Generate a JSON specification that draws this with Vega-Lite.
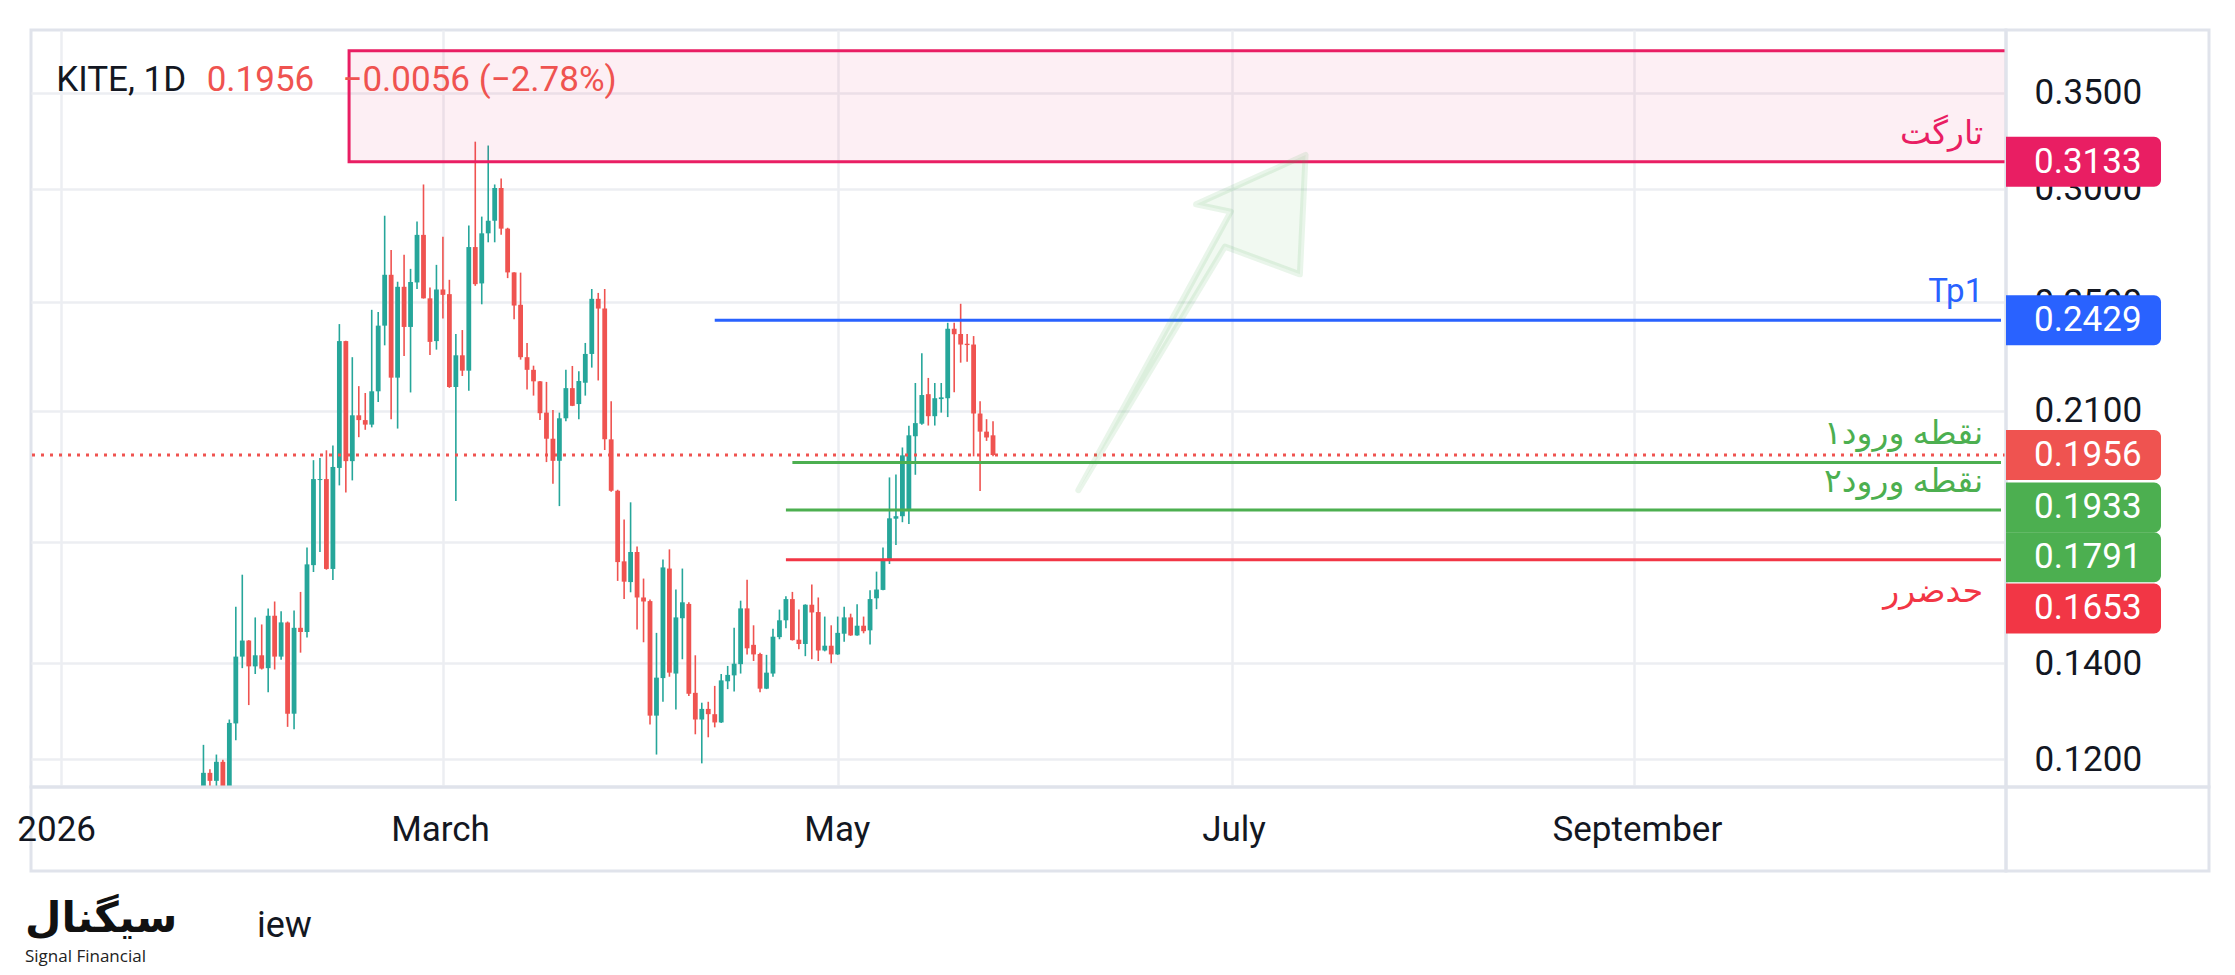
{
  "$schema": "https://vega.github.io/schema/vega-lite/v6.json",
  "background": "#ffffff",
  "padding": {"left": 15, "top": 28, "right": 28, "bottom": 10},
  "autosize": {"type": "pad"},
  "config": {"view": {"stroke": "#e0e3eb", "strokeWidth": 3}, "font": "Roboto"},
  "datasets": {
    "candles": [
      {"date": "2026-01-22", "open": 0.1080, "high": 0.1146, "low": 0.1050, "close": 0.1120},
      {"date": "2026-01-23", "open": 0.1125, "high": 0.1228, "low": 0.1105, "close": 0.1174},
      {"date": "2026-01-24", "open": 0.1174, "high": 0.1181, "low": 0.1120, "close": 0.1159},
      {"date": "2026-01-25", "open": 0.1159, "high": 0.1209, "low": 0.1135, "close": 0.1195},
      {"date": "2026-01-26", "open": 0.1195, "high": 0.1199, "low": 0.1125, "close": 0.1149},
      {"date": "2026-01-27", "open": 0.1149, "high": 0.1279, "low": 0.1130, "close": 0.1272},
      {"date": "2026-01-28", "open": 0.1271, "high": 0.1533, "low": 0.1237, "close": 0.1415},
      {"date": "2026-01-29", "open": 0.1415, "high": 0.1614, "low": 0.1389, "close": 0.1452},
      {"date": "2026-01-30", "open": 0.1452, "high": 0.1453, "low": 0.1309, "close": 0.1393},
      {"date": "2026-01-31", "open": 0.1393, "high": 0.1507, "low": 0.1376, "close": 0.1418},
      {"date": "2026-02-01", "open": 0.1418, "high": 0.1490, "low": 0.1386, "close": 0.1388},
      {"date": "2026-02-02", "open": 0.1389, "high": 0.1529, "low": 0.1336, "close": 0.1511},
      {"date": "2026-02-03", "open": 0.1511, "high": 0.1546, "low": 0.1386, "close": 0.1415},
      {"date": "2026-02-04", "open": 0.1415, "high": 0.1522, "low": 0.1408, "close": 0.1495},
      {"date": "2026-02-05", "open": 0.1495, "high": 0.1497, "low": 0.1264, "close": 0.1291},
      {"date": "2026-02-06", "open": 0.1291, "high": 0.1524, "low": 0.1259, "close": 0.1482},
      {"date": "2026-02-07", "open": 0.1482, "high": 0.1570, "low": 0.1424, "close": 0.1472},
      {"date": "2026-02-08", "open": 0.1472, "high": 0.1686, "low": 0.1459, "close": 0.1641},
      {"date": "2026-02-09", "open": 0.1639, "high": 0.1940, "low": 0.1621, "close": 0.1882},
      {"date": "2026-02-10", "open": 0.1879, "high": 0.1947, "low": 0.1674, "close": 0.1882},
      {"date": "2026-02-11", "open": 0.1882, "high": 0.1971, "low": 0.1627, "close": 0.1629},
      {"date": "2026-02-12", "open": 0.1629, "high": 0.1986, "low": 0.1600, "close": 0.1919},
      {"date": "2026-02-13", "open": 0.1916, "high": 0.2414, "low": 0.1863, "close": 0.2349},
      {"date": "2026-02-14", "open": 0.2349, "high": 0.2350, "low": 0.1842, "close": 0.1937},
      {"date": "2026-02-15", "open": 0.1937, "high": 0.2289, "low": 0.1878, "close": 0.2085},
      {"date": "2026-02-16", "open": 0.2085, "high": 0.2185, "low": 0.2013, "close": 0.2069},
      {"date": "2026-02-17", "open": 0.2069, "high": 0.2161, "low": 0.2037, "close": 0.2054},
      {"date": "2026-02-18", "open": 0.2054, "high": 0.2470, "low": 0.2045, "close": 0.2167},
      {"date": "2026-02-19", "open": 0.2167, "high": 0.2461, "low": 0.2130, "close": 0.2408},
      {"date": "2026-02-20", "open": 0.2408, "high": 0.2873, "low": 0.2333, "close": 0.2613},
      {"date": "2026-02-21", "open": 0.2613, "high": 0.2719, "low": 0.2072, "close": 0.2215},
      {"date": "2026-02-22", "open": 0.2215, "high": 0.2584, "low": 0.2041, "close": 0.2563},
      {"date": "2026-02-23", "open": 0.2563, "high": 0.2699, "low": 0.2293, "close": 0.2403},
      {"date": "2026-02-24", "open": 0.2403, "high": 0.2638, "low": 0.2163, "close": 0.2583},
      {"date": "2026-02-25", "open": 0.2581, "high": 0.2846, "low": 0.2554, "close": 0.2786},
      {"date": "2026-02-26", "open": 0.2786, "high": 0.3021, "low": 0.2515, "close": 0.2516},
      {"date": "2026-02-27", "open": 0.2516, "high": 0.2560, "low": 0.2297, "close": 0.2346},
      {"date": "2026-02-28", "open": 0.2349, "high": 0.2655, "low": 0.2317, "close": 0.2552},
      {"date": "2026-03-01", "open": 0.2552, "high": 0.2778, "low": 0.2436, "close": 0.2530},
      {"date": "2026-03-02", "open": 0.2533, "high": 0.2592, "low": 0.2179, "close": 0.2182},
      {"date": "2026-03-03", "open": 0.2182, "high": 0.2376, "low": 0.1817, "close": 0.2296},
      {"date": "2026-03-04", "open": 0.2296, "high": 0.2391, "low": 0.2221, "close": 0.2240},
      {"date": "2026-03-05", "open": 0.2240, "high": 0.2828, "low": 0.2169, "close": 0.2732},
      {"date": "2026-03-06", "open": 0.2732, "high": 0.3236, "low": 0.2567, "close": 0.2574},
      {"date": "2026-03-07", "open": 0.2577, "high": 0.2869, "low": 0.2492, "close": 0.2793},
      {"date": "2026-03-08", "open": 0.2793, "high": 0.3216, "low": 0.2753, "close": 0.2850},
      {"date": "2026-03-09", "open": 0.2850, "high": 0.3021, "low": 0.2753, "close": 0.3004},
      {"date": "2026-03-10", "open": 0.3004, "high": 0.3050, "low": 0.2787, "close": 0.2814},
      {"date": "2026-03-11", "open": 0.2814, "high": 0.2818, "low": 0.2599, "close": 0.2623},
      {"date": "2026-03-12", "open": 0.2623, "high": 0.2624, "low": 0.2433, "close": 0.2487},
      {"date": "2026-03-13", "open": 0.2490, "high": 0.2622, "low": 0.2280, "close": 0.2289},
      {"date": "2026-03-14", "open": 0.2289, "high": 0.2342, "low": 0.2173, "close": 0.2243},
      {"date": "2026-03-15", "open": 0.2243, "high": 0.2258, "low": 0.2152, "close": 0.2202},
      {"date": "2026-03-16", "open": 0.2202, "high": 0.2203, "low": 0.2069, "close": 0.2092},
      {"date": "2026-03-17", "open": 0.2094, "high": 0.2200, "low": 0.1934, "close": 0.2008},
      {"date": "2026-03-18", "open": 0.2008, "high": 0.2103, "low": 0.1868, "close": 0.1938},
      {"date": "2026-03-19", "open": 0.1938, "high": 0.2094, "low": 0.1802, "close": 0.2075},
      {"date": "2026-03-20", "open": 0.2075, "high": 0.2243, "low": 0.2065, "close": 0.2178},
      {"date": "2026-03-21", "open": 0.2178, "high": 0.2257, "low": 0.2116, "close": 0.2117},
      {"date": "2026-03-22", "open": 0.2123, "high": 0.2238, "low": 0.2072, "close": 0.2203},
      {"date": "2026-03-23", "open": 0.2197, "high": 0.2342, "low": 0.2152, "close": 0.2301},
      {"date": "2026-03-24", "open": 0.2301, "high": 0.2554, "low": 0.2251, "close": 0.2514},
      {"date": "2026-03-25", "open": 0.2514, "high": 0.2538, "low": 0.2205, "close": 0.2475},
      {"date": "2026-03-26", "open": 0.2475, "high": 0.2554, "low": 0.1972, "close": 0.2006},
      {"date": "2026-03-27", "open": 0.2006, "high": 0.2133, "low": 0.1844, "close": 0.1847},
      {"date": "2026-03-28", "open": 0.1847, "high": 0.1850, "low": 0.1598, "close": 0.1647},
      {"date": "2026-03-29", "open": 0.1649, "high": 0.1764, "low": 0.1552, "close": 0.1596},
      {"date": "2026-03-30", "open": 0.1595, "high": 0.1813, "low": 0.1569, "close": 0.1674},
      {"date": "2026-03-31", "open": 0.1674, "high": 0.1689, "low": 0.1478, "close": 0.1556},
      {"date": "2026-04-01", "open": 0.1556, "high": 0.1604, "low": 0.1448, "close": 0.1546},
      {"date": "2026-04-02", "open": 0.1547, "high": 0.1551, "low": 0.1269, "close": 0.1287},
      {"date": "2026-04-03", "open": 0.1287, "high": 0.1470, "low": 0.1209, "close": 0.1368},
      {"date": "2026-04-04", "open": 0.1367, "high": 0.1654, "low": 0.1316, "close": 0.1633},
      {"date": "2026-04-05", "open": 0.1630, "high": 0.1681, "low": 0.1370, "close": 0.1379},
      {"date": "2026-04-06", "open": 0.1377, "high": 0.1576, "low": 0.1300, "close": 0.1507},
      {"date": "2026-04-07", "open": 0.1505, "high": 0.1630, "low": 0.1409, "close": 0.1544},
      {"date": "2026-04-08", "open": 0.1540, "high": 0.1544, "low": 0.1328, "close": 0.1333},
      {"date": "2026-04-09", "open": 0.1335, "high": 0.1418, "low": 0.1249, "close": 0.1279},
      {"date": "2026-04-10", "open": 0.1279, "high": 0.1314, "low": 0.1192, "close": 0.1301},
      {"date": "2026-04-11", "open": 0.1301, "high": 0.1316, "low": 0.1243, "close": 0.1290},
      {"date": "2026-04-12", "open": 0.1290, "high": 0.1350, "low": 0.1263, "close": 0.1273},
      {"date": "2026-04-13", "open": 0.1273, "high": 0.1376, "low": 0.1272, "close": 0.1362},
      {"date": "2026-04-14", "open": 0.1360, "high": 0.1394, "low": 0.1343, "close": 0.1374},
      {"date": "2026-04-15", "open": 0.1373, "high": 0.1482, "low": 0.1338, "close": 0.1399},
      {"date": "2026-04-16", "open": 0.1398, "high": 0.1548, "low": 0.1377, "close": 0.1529},
      {"date": "2026-04-17", "open": 0.1529, "high": 0.1601, "low": 0.1420, "close": 0.1434},
      {"date": "2026-04-18", "open": 0.1442, "high": 0.1488, "low": 0.1405, "close": 0.1420},
      {"date": "2026-04-19", "open": 0.1421, "high": 0.1424, "low": 0.1336, "close": 0.1344},
      {"date": "2026-04-20", "open": 0.1344, "high": 0.1419, "low": 0.1343, "close": 0.1379},
      {"date": "2026-04-21", "open": 0.1377, "high": 0.1480, "low": 0.1370, "close": 0.1461},
      {"date": "2026-04-22", "open": 0.1460, "high": 0.1526, "low": 0.1455, "close": 0.1500},
      {"date": "2026-04-23", "open": 0.1500, "high": 0.1559, "low": 0.1481, "close": 0.1552},
      {"date": "2026-04-24", "open": 0.1552, "high": 0.1570, "low": 0.1452, "close": 0.1453},
      {"date": "2026-04-25", "open": 0.1454, "high": 0.1526, "low": 0.1432, "close": 0.1444},
      {"date": "2026-04-26", "open": 0.1444, "high": 0.1539, "low": 0.1416, "close": 0.1538},
      {"date": "2026-04-27", "open": 0.1538, "high": 0.1589, "low": 0.1409, "close": 0.1519},
      {"date": "2026-04-28", "open": 0.1520, "high": 0.1556, "low": 0.1405, "close": 0.1429},
      {"date": "2026-04-29", "open": 0.1429, "high": 0.1509, "low": 0.1427, "close": 0.1440},
      {"date": "2026-04-30", "open": 0.1440, "high": 0.1488, "low": 0.1400, "close": 0.1420},
      {"date": "2026-05-01", "open": 0.1420, "high": 0.1509, "low": 0.1419, "close": 0.1470},
      {"date": "2026-05-02", "open": 0.1468, "high": 0.1533, "low": 0.1449, "close": 0.1507},
      {"date": "2026-05-03", "open": 0.1507, "high": 0.1516, "low": 0.1463, "close": 0.1464},
      {"date": "2026-05-04", "open": 0.1464, "high": 0.1539, "low": 0.1463, "close": 0.1487},
      {"date": "2026-05-05", "open": 0.1487, "high": 0.1509, "low": 0.1469, "close": 0.1474},
      {"date": "2026-05-06", "open": 0.1476, "high": 0.1574, "low": 0.1443, "close": 0.1552},
      {"date": "2026-05-07", "open": 0.1554, "high": 0.1622, "low": 0.1527, "close": 0.1576},
      {"date": "2026-05-08", "open": 0.1575, "high": 0.1686, "low": 0.1574, "close": 0.1655},
      {"date": "2026-05-09", "open": 0.1652, "high": 0.1887, "low": 0.1642, "close": 0.1767},
      {"date": "2026-05-10", "open": 0.1766, "high": 0.1896, "low": 0.1693, "close": 0.1773},
      {"date": "2026-05-11", "open": 0.1773, "high": 0.1980, "low": 0.1756, "close": 0.1955},
      {"date": "2026-05-12", "open": 0.1789, "high": 0.2050, "low": 0.1751, "close": 0.2019},
      {"date": "2026-05-13", "open": 0.2016, "high": 0.2196, "low": 0.1895, "close": 0.2059},
      {"date": "2026-05-14", "open": 0.2057, "high": 0.2304, "low": 0.2054, "close": 0.2154},
      {"date": "2026-05-15", "open": 0.2157, "high": 0.2214, "low": 0.2051, "close": 0.2082},
      {"date": "2026-05-16", "open": 0.2082, "high": 0.2196, "low": 0.2051, "close": 0.2143},
      {"date": "2026-05-17", "open": 0.2140, "high": 0.2196, "low": 0.2094, "close": 0.2146},
      {"date": "2026-05-18", "open": 0.2143, "high": 0.2419, "low": 0.2079, "close": 0.2396},
      {"date": "2026-05-19", "open": 0.2396, "high": 0.2419, "low": 0.2164, "close": 0.2375},
      {"date": "2026-05-20", "open": 0.2376, "high": 0.2494, "low": 0.2269, "close": 0.2336},
      {"date": "2026-05-21", "open": 0.2339, "high": 0.2376, "low": 0.2272, "close": 0.2334},
      {"date": "2026-05-22", "open": 0.2336, "high": 0.2368, "low": 0.1952, "close": 0.2091},
      {"date": "2026-05-23", "open": 0.2091, "high": 0.2133, "low": 0.1846, "close": 0.2031},
      {"date": "2026-05-24", "open": 0.2031, "high": 0.2072, "low": 0.2001, "close": 0.2012},
      {"date": "2026-05-25", "open": 0.2019, "high": 0.2065, "low": 0.1952, "close": 0.1956}
    ],
    "levels": [
      {"kind": "tp1", "price": 0.2429, "start": "2026-04-12"},
      {"kind": "entry", "price": 0.1933, "start": "2026-04-24"},
      {"kind": "entry", "price": 0.1791, "start": "2026-04-23"},
      {"kind": "stop", "price": 0.1653, "start": "2026-04-23"}
    ],
    "labels": [
      {"kind": "target", "price": 0.3133, "text": "تارگت"},
      {"kind": "tp1", "price": 0.2429, "text": "Tp1"},
      {"kind": "entry", "price": 0.1933, "text": "نقطه ورود۱"},
      {"kind": "entry", "price": 0.1791, "text": "نقطه ورود۲"},
      {"kind": "stop", "price": 0.1653, "text": "حدضرر"}
    ],
    "tags": [
      {"kind": "target", "value": 0.3133, "at": 0.3133},
      {"kind": "tp1", "value": 0.2429, "at": 0.2429},
      {"kind": "last", "value": 0.1956, "at": 0.1956},
      {"kind": "entry", "value": 0.1933, "at": 0.1798},
      {"kind": "entry", "value": 0.1791, "at": 0.1660},
      {"kind": "stop", "value": 0.1653, "at": 0.1529}
    ],
    "arrow": [
      {"i": 0, "t": "2026-06-07T04:30:00Z", "p": 0.18486},
      {"i": 1, "t": "2026-06-30T18:00:00Z", "p": 0.28920},
      {"i": 2, "t": "2026-06-25T09:00:00Z", "p": 0.29261},
      {"i": 3, "t": "2026-07-12T07:00:00Z", "p": 0.31680},
      {"i": 4, "t": "2026-07-11T10:00:00Z", "p": 0.26148},
      {"i": 5, "t": "2026-06-29T20:00:00Z", "p": 0.27340},
      {"i": 6, "t": "2026-06-07T04:30:00Z", "p": 0.18486}
    ]
  },
  "columns": 2,
  "spacing": 0,
  "bounds": "flush",
  "resolve": {"scale": {"x": "independent", "y": "independent", "color": "independent"}},
  "concat": [
    {
      "width": 1975,
      "height": 757,
      "layer": [
        {
          "data": {"name": "candles"},
          "mark": {"type": "rule", "strokeWidth": 1.6, "clip": true},
          "encoding": {
            "x": {"field": "date", "type": "temporal",
              "scale": {"type": "utc", "nice": false, "domain": [{"year": 2025, "month": 12, "date": 28, "hours": 3, "utc": true}, {"year": 2026, "month": 10, "date": 27, "hours": 18, "utc": true}]},
              "axis": {"values": [{"year": 2026, "month": 1, "date": 1, "utc": true}, {"year": 2026, "month": 3, "date": 1, "utc": true}, {"year": 2026, "month": 5, "date": 1, "utc": true}, {"year": 2026, "month": 7, "date": 1, "utc": true}, {"year": 2026, "month": 9, "date": 1, "utc": true}], "grid": true, "gridColor": "#eceef2", "gridWidth": 2.5, "labels": false, "domain": false, "ticks": false, "title": null}},
            "y": {"field": "low", "type": "quantitative",
              "scale": {"type": "log", "nice": false, "domain": [0.11476, 0.38718]},
              "axis": {"values": [0.12, 0.14, 0.17, 0.21, 0.25, 0.3, 0.35], "grid": true, "gridColor": "#eceef2", "gridWidth": 2.5, "labels": false, "domain": false, "ticks": false, "title": null}},
            "y2": {"field": "high"},
            "color": {"condition": {"test": "datum.close >= datum.open", "value": "#26a69a"}, "value": "#ef5350"}
          }
        },
        {
          "data": {"name": "candles"},
          "mark": {"type": "bar", "size": 4.8, "clip": true},
          "encoding": {
            "x": {"field": "date", "type": "temporal",
              "scale": {"type": "utc", "nice": false, "domain": [{"year": 2025, "month": 12, "date": 28, "hours": 3, "utc": true}, {"year": 2026, "month": 10, "date": 27, "hours": 18, "utc": true}]},
              "axis": {"values": [{"year": 2026, "month": 1, "date": 1, "utc": true}, {"year": 2026, "month": 3, "date": 1, "utc": true}, {"year": 2026, "month": 5, "date": 1, "utc": true}, {"year": 2026, "month": 7, "date": 1, "utc": true}, {"year": 2026, "month": 9, "date": 1, "utc": true}], "grid": true, "gridColor": "#eceef2", "gridWidth": 2.5, "labels": false, "domain": false, "ticks": false, "title": null}},
            "y": {"field": "open", "type": "quantitative",
              "scale": {"type": "log", "nice": false, "domain": [0.11476, 0.38718]},
              "axis": {"values": [0.12, 0.14, 0.17, 0.21, 0.25, 0.3, 0.35], "grid": true, "gridColor": "#eceef2", "gridWidth": 2.5, "labels": false, "domain": false, "ticks": false, "title": null}},
            "y2": {"field": "close"},
            "color": {"condition": {"test": "datum.close >= datum.open", "value": "#26a69a"}, "value": "#ef5350"}
          }
        },
        {
          "data": {"values": [{}]},
          "mark": {"type": "rect", "clip": true, "fill": "#e91e63", "fillOpacity": 0.07, "stroke": "#e91e63", "strokeWidth": 3},
          "encoding": {
            "x": {"datum": {"year": 2026, "month": 2, "date": 14, "hours": 12, "utc": true}, "type": "temporal",
              "scale": {"type": "utc", "nice": false, "domain": [{"year": 2025, "month": 12, "date": 28, "hours": 3, "utc": true}, {"year": 2026, "month": 10, "date": 27, "hours": 18, "utc": true}]},
              "axis": {"values": [{"year": 2026, "month": 1, "date": 1, "utc": true}, {"year": 2026, "month": 3, "date": 1, "utc": true}, {"year": 2026, "month": 5, "date": 1, "utc": true}, {"year": 2026, "month": 7, "date": 1, "utc": true}, {"year": 2026, "month": 9, "date": 1, "utc": true}], "grid": true, "gridColor": "#eceef2", "gridWidth": 2.5, "labels": false, "domain": false, "ticks": false, "title": null}},
            "x2": {"datum": {"year": 2026, "month": 11, "date": 15, "utc": true}},
            "y": {"datum": 0.3133, "type": "quantitative",
              "scale": {"type": "log", "nice": false, "domain": [0.11476, 0.38718]},
              "axis": {"values": [0.12, 0.14, 0.17, 0.21, 0.25, 0.3, 0.35], "grid": true, "gridColor": "#eceef2", "gridWidth": 2.5, "labels": false, "domain": false, "ticks": false, "title": null}},
            "y2": {"datum": 0.3745}
          }
        },
        {
          "data": {"values": [{}]},
          "mark": {"type": "rule", "color": "#ef5350", "strokeWidth": 3, "strokeDash": [3, 6]},
          "encoding": {
            "y": {"datum": 0.1956, "type": "quantitative",
              "scale": {"type": "log", "nice": false, "domain": [0.11476, 0.38718]},
              "axis": {"values": [0.12, 0.14, 0.17, 0.21, 0.25, 0.3, 0.35], "grid": true, "gridColor": "#eceef2", "gridWidth": 2.5, "labels": false, "domain": false, "ticks": false, "title": null}}
          }
        },
        {
          "data": {"name": "levels"},
          "mark": {"type": "rule", "strokeWidth": 3},
          "encoding": {
            "x": {"field": "start", "type": "temporal",
              "scale": {"type": "utc", "nice": false, "domain": [{"year": 2025, "month": 12, "date": 28, "hours": 3, "utc": true}, {"year": 2026, "month": 10, "date": 27, "hours": 18, "utc": true}]},
              "axis": {"values": [{"year": 2026, "month": 1, "date": 1, "utc": true}, {"year": 2026, "month": 3, "date": 1, "utc": true}, {"year": 2026, "month": 5, "date": 1, "utc": true}, {"year": 2026, "month": 7, "date": 1, "utc": true}, {"year": 2026, "month": 9, "date": 1, "utc": true}], "grid": true, "gridColor": "#eceef2", "gridWidth": 2.5, "labels": false, "domain": false, "ticks": false, "title": null}},
            "x2": {"datum": {"year": 2026, "month": 10, "date": 27, "hours": 18, "utc": true}},
            "y": {"field": "price", "type": "quantitative",
              "scale": {"type": "log", "nice": false, "domain": [0.11476, 0.38718]},
              "axis": {"values": [0.12, 0.14, 0.17, 0.21, 0.25, 0.3, 0.35], "grid": true, "gridColor": "#eceef2", "gridWidth": 2.5, "labels": false, "domain": false, "ticks": false, "title": null}},
            "color": {"field": "kind", "type": "nominal", "legend": null,
              "scale": {"domain": ["target", "tp1", "entry", "stop", "last"], "range": ["#e91e63", "#2962ff", "#4caf50", "#f23645", "#ef5350"]}}
          }
        },
        {
          "data": {"name": "arrow"},
          "mark": {"type": "line", "fill": "#4caf50", "fillOpacity": 0.08, "stroke": "#4caf50", "strokeOpacity": 0.12, "strokeWidth": 6, "strokeJoin": "round", "strokeCap": "round"},
          "encoding": {
            "x": {"field": "t", "type": "temporal",
              "scale": {"type": "utc", "nice": false, "domain": [{"year": 2025, "month": 12, "date": 28, "hours": 3, "utc": true}, {"year": 2026, "month": 10, "date": 27, "hours": 18, "utc": true}]},
              "axis": {"values": [{"year": 2026, "month": 1, "date": 1, "utc": true}, {"year": 2026, "month": 3, "date": 1, "utc": true}, {"year": 2026, "month": 5, "date": 1, "utc": true}, {"year": 2026, "month": 7, "date": 1, "utc": true}, {"year": 2026, "month": 9, "date": 1, "utc": true}], "grid": true, "gridColor": "#eceef2", "gridWidth": 2.5, "labels": false, "domain": false, "ticks": false, "title": null}},
            "y": {"field": "p", "type": "quantitative",
              "scale": {"type": "log", "nice": false, "domain": [0.11476, 0.38718]},
              "axis": {"values": [0.12, 0.14, 0.17, 0.21, 0.25, 0.3, 0.35], "grid": true, "gridColor": "#eceef2", "gridWidth": 2.5, "labels": false, "domain": false, "ticks": false, "title": null}},
            "order": {"field": "i", "type": "quantitative"}
          }
        },
        {
          "data": {"name": "labels"},
          "transform": [{"filter": "datum.kind != 'stop'"}],
          "mark": {"type": "text", "align": "right", "baseline": "alphabetic", "dy": -18, "fontSize": 33, "font": "Roboto, DejaVu Sans"},
          "encoding": {
            "x": {"datum": {"year": 2026, "month": 10, "date": 25, "utc": true}, "type": "temporal",
              "scale": {"type": "utc", "nice": false, "domain": [{"year": 2025, "month": 12, "date": 28, "hours": 3, "utc": true}, {"year": 2026, "month": 10, "date": 27, "hours": 18, "utc": true}]},
              "axis": {"values": [{"year": 2026, "month": 1, "date": 1, "utc": true}, {"year": 2026, "month": 3, "date": 1, "utc": true}, {"year": 2026, "month": 5, "date": 1, "utc": true}, {"year": 2026, "month": 7, "date": 1, "utc": true}, {"year": 2026, "month": 9, "date": 1, "utc": true}], "grid": true, "gridColor": "#eceef2", "gridWidth": 2.5, "labels": false, "domain": false, "ticks": false, "title": null}},
            "y": {"field": "price", "type": "quantitative",
              "scale": {"type": "log", "nice": false, "domain": [0.11476, 0.38718]},
              "axis": {"values": [0.12, 0.14, 0.17, 0.21, 0.25, 0.3, 0.35], "grid": true, "gridColor": "#eceef2", "gridWidth": 2.5, "labels": false, "domain": false, "ticks": false, "title": null}},
            "text": {"field": "text"},
            "color": {"field": "kind", "type": "nominal", "legend": null,
              "scale": {"domain": ["target", "tp1", "entry", "stop", "last"], "range": ["#e91e63", "#2962ff", "#4caf50", "#f23645", "#ef5350"]}}
          }
        },
        {
          "data": {"name": "labels"},
          "transform": [{"filter": "datum.kind == 'stop'"}],
          "mark": {"type": "text", "align": "right", "baseline": "alphabetic", "dy": 42, "fontSize": 33, "font": "Roboto, DejaVu Sans"},
          "encoding": {
            "x": {"datum": {"year": 2026, "month": 10, "date": 25, "utc": true}, "type": "temporal",
              "scale": {"type": "utc", "nice": false, "domain": [{"year": 2025, "month": 12, "date": 28, "hours": 3, "utc": true}, {"year": 2026, "month": 10, "date": 27, "hours": 18, "utc": true}]},
              "axis": {"values": [{"year": 2026, "month": 1, "date": 1, "utc": true}, {"year": 2026, "month": 3, "date": 1, "utc": true}, {"year": 2026, "month": 5, "date": 1, "utc": true}, {"year": 2026, "month": 7, "date": 1, "utc": true}, {"year": 2026, "month": 9, "date": 1, "utc": true}], "grid": true, "gridColor": "#eceef2", "gridWidth": 2.5, "labels": false, "domain": false, "ticks": false, "title": null}},
            "y": {"field": "price", "type": "quantitative",
              "scale": {"type": "log", "nice": false, "domain": [0.11476, 0.38718]},
              "axis": {"values": [0.12, 0.14, 0.17, 0.21, 0.25, 0.3, 0.35], "grid": true, "gridColor": "#eceef2", "gridWidth": 2.5, "labels": false, "domain": false, "ticks": false, "title": null}},
            "text": {"field": "text"},
            "color": {"field": "kind", "type": "nominal", "legend": null,
              "scale": {"domain": ["target", "tp1", "entry", "stop", "last"], "range": ["#e91e63", "#2962ff", "#4caf50", "#f23645", "#ef5350"]}}
          }
        },
        {
          "data": {"values": [{}]},
          "mark": {"type": "text", "text": "KITE, 1D", "align": "left", "baseline": "alphabetic", "fontSize": 35, "color": "#131722"},
          "encoding": {
            "x": {"datum": {"year": 2025, "month": 12, "date": 31, "hours": 6, "utc": true}, "type": "temporal",
              "scale": {"type": "utc", "nice": false, "domain": [{"year": 2025, "month": 12, "date": 28, "hours": 3, "utc": true}, {"year": 2026, "month": 10, "date": 27, "hours": 18, "utc": true}]},
              "axis": {"values": [{"year": 2026, "month": 1, "date": 1, "utc": true}, {"year": 2026, "month": 3, "date": 1, "utc": true}, {"year": 2026, "month": 5, "date": 1, "utc": true}, {"year": 2026, "month": 7, "date": 1, "utc": true}, {"year": 2026, "month": 9, "date": 1, "utc": true}], "grid": true, "gridColor": "#eceef2", "gridWidth": 2.5, "labels": false, "domain": false, "ticks": false, "title": null}},
            "y": {"datum": 0.3511, "type": "quantitative",
              "scale": {"type": "log", "nice": false, "domain": [0.11476, 0.38718]},
              "axis": {"values": [0.12, 0.14, 0.17, 0.21, 0.25, 0.3, 0.35], "grid": true, "gridColor": "#eceef2", "gridWidth": 2.5, "labels": false, "domain": false, "ticks": false, "title": null}}
          }
        },
        {
          "data": {"values": [{}]},
          "mark": {"type": "text", "text": "0.1956", "align": "left", "baseline": "alphabetic", "fontSize": 35, "color": "#ef5350"},
          "encoding": {
            "x": {"datum": {"year": 2026, "month": 1, "date": 23, "hours": 12, "utc": true}, "type": "temporal",
              "scale": {"type": "utc", "nice": false, "domain": [{"year": 2025, "month": 12, "date": 28, "hours": 3, "utc": true}, {"year": 2026, "month": 10, "date": 27, "hours": 18, "utc": true}]},
              "axis": {"values": [{"year": 2026, "month": 1, "date": 1, "utc": true}, {"year": 2026, "month": 3, "date": 1, "utc": true}, {"year": 2026, "month": 5, "date": 1, "utc": true}, {"year": 2026, "month": 7, "date": 1, "utc": true}, {"year": 2026, "month": 9, "date": 1, "utc": true}], "grid": true, "gridColor": "#eceef2", "gridWidth": 2.5, "labels": false, "domain": false, "ticks": false, "title": null}},
            "y": {"datum": 0.3511, "type": "quantitative",
              "scale": {"type": "log", "nice": false, "domain": [0.11476, 0.38718]},
              "axis": {"values": [0.12, 0.14, 0.17, 0.21, 0.25, 0.3, 0.35], "grid": true, "gridColor": "#eceef2", "gridWidth": 2.5, "labels": false, "domain": false, "ticks": false, "title": null}}
          }
        },
        {
          "data": {"values": [{}]},
          "mark": {"type": "text", "text": "−0.0056 (−2.78%)", "align": "left", "baseline": "alphabetic", "fontSize": 35, "color": "#ef5350"},
          "encoding": {
            "x": {"datum": {"year": 2026, "month": 2, "date": 13, "hours": 11, "minutes": 20, "utc": true}, "type": "temporal",
              "scale": {"type": "utc", "nice": false, "domain": [{"year": 2025, "month": 12, "date": 28, "hours": 3, "utc": true}, {"year": 2026, "month": 10, "date": 27, "hours": 18, "utc": true}]},
              "axis": {"values": [{"year": 2026, "month": 1, "date": 1, "utc": true}, {"year": 2026, "month": 3, "date": 1, "utc": true}, {"year": 2026, "month": 5, "date": 1, "utc": true}, {"year": 2026, "month": 7, "date": 1, "utc": true}, {"year": 2026, "month": 9, "date": 1, "utc": true}], "grid": true, "gridColor": "#eceef2", "gridWidth": 2.5, "labels": false, "domain": false, "ticks": false, "title": null}},
            "y": {"datum": 0.3511, "type": "quantitative",
              "scale": {"type": "log", "nice": false, "domain": [0.11476, 0.38718]},
              "axis": {"values": [0.12, 0.14, 0.17, 0.21, 0.25, 0.3, 0.35], "grid": true, "gridColor": "#eceef2", "gridWidth": 2.5, "labels": false, "domain": false, "ticks": false, "title": null}}
          }
        }
      ]
    },
    {
      "width": 203,
      "height": 757,
      "data": {"name": "tags"},
      "layer": [
        {
          "mark": {"type": "tick", "orient": "horizontal", "thickness": 50, "size": 155, "opacity": 1, "cornerRadiusTopRight": 7, "cornerRadiusBottomRight": 7},
          "encoding": {
            "x": {"datum": 0.3818, "type": "quantitative", "scale": {"domain": [0, 1], "nice": false, "zero": false},
              "axis": {"labels": false, "grid": false, "ticks": false, "domain": false, "title": null}},
            "y": {"field": "at", "type": "quantitative",
              "scale": {"type": "log", "nice": false, "domain": [0.11476, 0.38718]},
              "axis": {"orient": "left", "values": [0.12, 0.14, 0.17, 0.21, 0.25, 0.3, 0.35], "format": ".4f", "labelExpr": "datum.value == 0.17 ? '' : datum.label", "grid": false, "domain": false, "ticks": false, "labelPadding": -28, "labelAlign": "left", "labelBaseline": "middle", "labelFontSize": 35, "labelFont": "Roboto", "labelColor": "#131722", "labelOverlap": false, "title": null}},
            "color": {"field": "kind", "type": "nominal", "legend": null,
              "scale": {"domain": ["target", "tp1", "entry", "stop", "last"], "range": ["#e91e63", "#2962ff", "#4caf50", "#f23645", "#ef5350"]}}
          }
        },
        {
          "mark": {"type": "text", "align": "left", "baseline": "middle", "fontSize": 35, "color": "#ffffff"},
          "encoding": {
            "x": {"datum": 0.138, "type": "quantitative", "scale": {"domain": [0, 1], "nice": false, "zero": false},
              "axis": {"labels": false, "grid": false, "ticks": false, "domain": false, "title": null}},
            "y": {"field": "at", "type": "quantitative",
              "scale": {"type": "log", "nice": false, "domain": [0.11476, 0.38718]},
              "axis": {"orient": "left", "values": [0.12, 0.14, 0.17, 0.21, 0.25, 0.3, 0.35], "format": ".4f", "labelExpr": "datum.value == 0.17 ? '' : datum.label", "grid": false, "domain": false, "ticks": false, "labelPadding": -28, "labelAlign": "left", "labelBaseline": "middle", "labelFontSize": 35, "labelFont": "Roboto", "labelColor": "#131722", "labelOverlap": false, "title": null}},
            "text": {"field": "value", "type": "quantitative", "format": ".4f"}
          }
        }
      ]
    },
    {
      "width": 1975,
      "height": 84,
      "data": {"values": [{}]},
      "mark": {"type": "text", "text": ""},
      "encoding": {
        "x": {"datum": {"year": 2026, "month": 1, "date": 1, "utc": true}, "type": "temporal",
          "scale": {"type": "utc", "nice": false, "domain": [{"year": 2025, "month": 12, "date": 28, "hours": 3, "utc": true}, {"year": 2026, "month": 10, "date": 27, "hours": 18, "utc": true}]},
          "axis": {
            "orient": "bottom",
            "values": [{"year": 2026, "month": 1, "date": 1, "utc": true}, {"year": 2026, "month": 3, "date": 1, "utc": true}, {"year": 2026, "month": 5, "date": 1, "utc": true}, {"year": 2026, "month": 7, "date": 1, "utc": true}, {"year": 2026, "month": 9, "date": 1, "utc": true}],
            "labelExpr": "utcFormat(datum.value, '%m') == '01' ? '2026' : utcFormat(datum.value, '%B')",
            "grid": false, "domain": false, "ticks": false,
            "labelPadding": -42, "labelBaseline": "middle", "labelFontSize": 35, "labelFont": "Roboto",
            "labelColor": "#131722", "labelFlush": false, "labelOverlap": false, "title": null
          }
        }
      },
      "title": {
        "text": "سیگنال",
        "subtitle": "Signal Financial",
        "orient": "bottom",
        "anchor": "start",
        "frame": "group",
        "offset": 28,
        "dx": -6,
        "font": "DejaVu Sans",
        "fontSize": 42,
        "fontWeight": "bold",
        "color": "#111111",
        "subtitleFont": "Open Sans",
        "subtitleFontSize": 17,
        "subtitleColor": "#222222",
        "subtitlePadding": 8
      }
    },
    {
      "width": 203,
      "height": 84,
      "data": {"values": [{}]},
      "mark": {"type": "text", "text": ""},
      "encoding": {
        "x": {"datum": 0, "type": "quantitative", "axis": null, "scale": {"domain": [0, 1]}}
      },
      "title": {"text": "iew", "orient": "bottom", "anchor": "start", "frame": "group", "offset": 38, "dx": -1749, "font": "Roboto", "fontSize": 36, "fontWeight": "normal", "color": "#131722"}
    }
  ]
}
